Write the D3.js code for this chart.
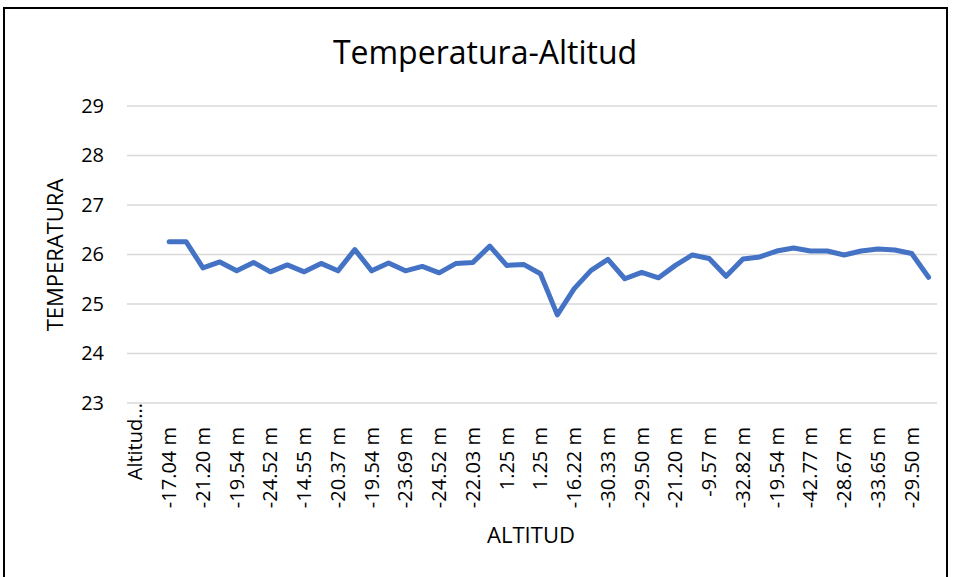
<!DOCTYPE html>
<html>
<head>
<meta charset="utf-8">
<script src="https://cdn.jsdelivr.net/npm/d3@7"></script>
<style>
  html, body { margin: 0; padding: 0; background: #fff; }
  svg { display: block; }
  text { font-family: "Open Sans", "Liberation Sans", sans-serif; fill: #000; }
</style>
</head>
<body>
<svg id="chart" width="954" height="577"></svg>
<script>
// Category labels along the altitude axis (one per reading row)
const altitudes = [
  "Altitud (m)", "", "-17.04 m", "-17.04 m", "-21.20 m", "-20.37 m", "-19.54 m", "-22.03 m",
  "-24.52 m", "-19.54 m", "-14.55 m", "-18.71 m", "-20.37 m", "-21.20 m", "-19.54 m", "-22.86 m",
  "-23.69 m", "-20.37 m", "-24.52 m", "-23.69 m", "-22.03 m", "-12.06 m", "1.25 m", "0.42 m",
  "1.25 m", "-5.74 m", "-16.22 m", "-24.52 m", "-30.33 m", "-31.16 m", "-29.50 m", "-26.18 m",
  "-21.20 m", "-14.55 m", "-9.57 m", "-22.86 m", "-32.82 m", "-27.84 m", "-19.54 m", "-34.48 m",
  "-42.77 m", "-36.97 m", "-28.67 m", "-31.16 m", "-33.65 m", "-31.99 m", "-29.50 m", "-25.35 m"
];

// Temperature per row (the first two rows carry no reading)
const temperatures = [
  null, null,
  26.26, 26.26, 25.73, 25.85, 25.67, 25.84, 25.65, 25.79, 25.65, 25.82,
  25.67, 26.10, 25.67, 25.83, 25.67, 25.76, 25.63, 25.82, 25.84, 26.17,
  25.78, 25.80, 25.61, 24.78, 25.31, 25.68, 25.90, 25.51, 25.64, 25.53,
  25.78, 25.99, 25.92, 25.56, 25.91, 25.95, 26.07, 26.13, 26.07, 26.07,
  25.99, 26.07, 26.11, 26.09, 26.02, 25.54
];

const yTicks = [23, 24, 25, 26, 27, 28, 29];

const chartTitle = "Temperatura-Altitud";
const xTitle = "ALTITUD";
const yTitle = "TEMPERATURA";

const svg = d3.select("#chart");

// Outer chart frame
svg.append("rect")
  .attr("x", 4).attr("y", 8)
  .attr("width", 943).attr("height", 590)
  .attr("fill", "none")
  .attr("stroke", "#000")
  .attr("stroke-width", 2);

const plot = { left: 127, right: 937, top: 106, bottom: 403 };

const x = d3.scaleBand()
  .domain(d3.range(altitudes.length))
  .range([plot.left, plot.right])
  .paddingInner(0).paddingOuter(0);

const y = d3.scaleLinear()
  .domain([23, 29])
  .range([plot.bottom, plot.top]);

// Horizontal gridlines
svg.append("g")
  .selectAll("line")
  .data(yTicks)
  .join("line")
  .attr("x1", plot.left).attr("x2", plot.right)
  .attr("y1", d => y(d)).attr("y2", d => y(d))
  .attr("stroke", "#d9d9d9")
  .attr("stroke-width", 1.5);

// Y axis tick labels
const yAxis = d3.axisLeft(y)
  .tickValues(yTicks)
  .tickFormat(d3.format("d"))
  .tickSize(0).tickPadding(0);
const gy = svg.append("g")
  .attr("transform", `translate(104,0)`)
  .call(yAxis);
gy.select(".domain").remove();
gy.selectAll("text")
  .attr("font-size", 20)
  .attr("font-family", "'Open Sans', sans-serif")
  .attr("fill", "#000");

// X axis labels: every other category, rotated
const shortLabel = s => s.length > 9 ? s.slice(0, 7) + "..." : s;
const xAxis = d3.axisBottom(x)
  .tickValues(d3.range(0, altitudes.length, 2))
  .tickFormat(i => shortLabel(altitudes[i]))
  .tickSize(0).tickPadding(0);
const gx = svg.append("g")
  .attr("transform", `translate(0,${plot.bottom})`)
  .call(xAxis);
gx.select(".domain").remove();
gx.selectAll("text")
  .attr("font-size", 20)
  .attr("font-family", "'Open Sans', sans-serif")
  .attr("fill", "#000")
  .attr("transform", i => `translate(0,${i === 0 ? 0 : 24}) rotate(-90)`)
  .attr("text-anchor", "end")
  .attr("x", 0).attr("y", 0)
  .attr("dy", "0.35em");

// Temperature line
const line = d3.line()
  .defined(d => d != null)
  .x((d, i) => x(i) + x.bandwidth() / 2)
  .y(d => y(d));

svg.append("path")
  .datum(temperatures)
  .attr("d", line)
  .attr("fill", "none")
  .attr("stroke", "#4472c4")
  .attr("stroke-width", 5)
  .attr("stroke-linejoin", "round")
  .attr("stroke-linecap", "round");

// Titles
svg.append("text")
  .attr("x", 485).attr("y", 64)
  .attr("text-anchor", "middle")
  .attr("font-size", 32)
  .text(chartTitle);

svg.append("text")
  .attr("x", 531).attr("y", 543)
  .attr("text-anchor", "middle")
  .attr("font-size", 22)
  .text(xTitle);

svg.append("text")
  .attr("transform", "translate(63,255) rotate(-90)")
  .attr("text-anchor", "middle")
  .attr("font-size", 22)
  .text(yTitle);
</script>
</body>
</html>
